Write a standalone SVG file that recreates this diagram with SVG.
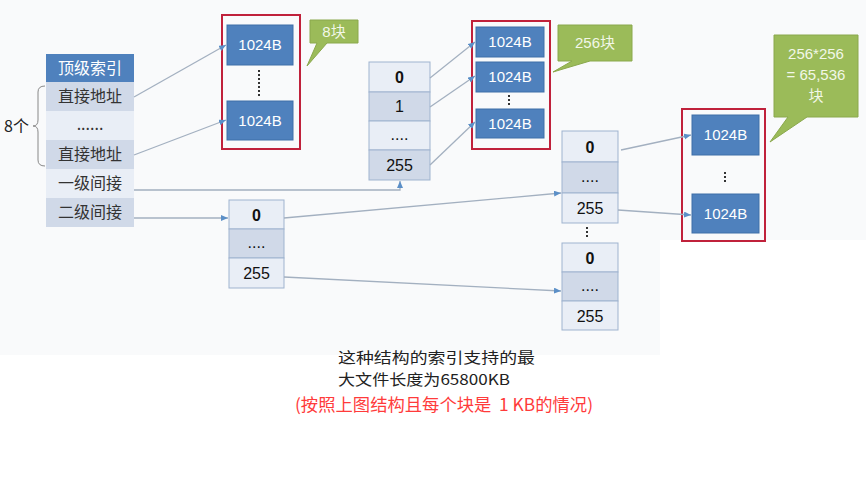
<svg xmlns="http://www.w3.org/2000/svg" width="866" height="482" viewBox="0 0 866 482">
<style>
.cjk{font-family:"Noto Sans CJK SC","Noto Sans",sans-serif}
.lt{fill:#e9eef6;stroke:#9fb3cf;stroke-width:1}
.dk{fill:#d0d9e8;stroke:#9fb3cf;stroke-width:1}
.num{font-family:"Liberation Sans",sans-serif;font-size:16px;fill:#111;text-anchor:middle}
.blk{fill:#4f81bd;stroke:#3e6ea8;stroke-width:1}
.bt{font-family:"Liberation Sans",sans-serif;font-size:15px;fill:#fff;text-anchor:middle}
.red{fill:none;stroke:#c0213b;stroke-width:2}
.call{fill:#9bbb59;stroke:#8aa84c;stroke-width:1}
.ct{font-family:"Liberation Sans","Noto Sans CJK SC",sans-serif;font-size:15px;fill:#f2f7e8;text-anchor:middle}
.lbl{font-family:"Noto Sans CJK SC",sans-serif;font-size:16px;fill:#333;text-anchor:middle}
.con{fill:none;stroke:#a3b0c0;stroke-width:1.3}
.dots{stroke:#333;stroke-width:2;stroke-dasharray:2,2}
</style>
<defs>
<marker id="ar" markerUnits="userSpaceOnUse" markerWidth="8" markerHeight="7" refX="7" refY="3" orient="auto">
<path d="M0,0 L7,3 L0,6 z" fill="#5b8fc7"/>
</marker>
</defs>
<rect x="0" y="0" width="866" height="482" fill="#ffffff"/>
<path d="M0,0 H866 V240 H660 V355 H0 Z" fill="#f9fafb"/>

<g id="index">
<rect x="46" y="54" width="88" height="28" fill="#4f81bd"/>
<text x="90" y="74" class="cjk" font-size="16" fill="#fff" text-anchor="middle">顶级索引</text>
<rect x="46" y="82" width="88" height="29" fill="#d0d9e8"/>
<text x="90" y="102" class="lbl">直接地址</text>
<rect x="46" y="111" width="88" height="29" fill="#e9eef6"/>
<text x="90" y="130" class="lbl">......</text>
<rect x="46" y="140" width="88" height="29" fill="#d0d9e8"/>
<text x="90" y="160" class="lbl">直接地址</text>
<rect x="46" y="169" width="88" height="29" fill="#e9eef6"/>
<text x="90" y="189" class="lbl">一级间接</text>
<rect x="46" y="198" width="88" height="29" fill="#d0d9e8"/>
<text x="90" y="218" class="lbl">二级间接</text>
<path d="M45,86 Q38,86 38,92 V120 Q38,126 33,126 Q38,126 38,132 V160 Q38,166 45,166" fill="none" stroke="#888" stroke-width="1"/>
<text x="4" y="132" class="cjk" font-size="16" fill="#222">8个</text>
</g>

<g id="block1">
<rect x="222" y="15" width="78" height="134" class="red"/>
<rect x="227" y="25" width="66" height="40" class="blk"/>
<text x="260" y="50" class="bt">1024B</text>
<line x1="259" y1="70" x2="259" y2="96" class="dots"/>
<rect x="227" y="101" width="66" height="39" class="blk"/>
<text x="260" y="126" class="bt">1024B</text>
</g>
<g id="callout1">
<path d="M310,20 H358 V43 H327 L307,66 L317,43 H310 Z" class="call"/>
<text x="334" y="37" class="ct">8块</text>
</g>

<g id="table1">
<rect x="369" y="62" width="61" height="30" class="lt"/>
<text x="399.5" y="83" class="num" font-weight="bold">0</text>
<rect x="369" y="92" width="61" height="29" class="dk"/>
<text x="399.5" y="112" class="num">1</text>
<rect x="369" y="121" width="61" height="29" class="lt"/>
<text x="399.5" y="140" class="num">....</text>
<rect x="369" y="150" width="61" height="30" class="dk"/>
<text x="399.5" y="171" class="num">255</text>
</g>

<g id="block2">
<rect x="472" y="21" width="78" height="128" class="red"/>
<rect x="476" y="27" width="68" height="30" class="blk"/>
<text x="510" y="47" class="bt">1024B</text>
<rect x="476" y="62" width="68" height="30" class="blk"/>
<text x="510" y="82" class="bt">1024B</text>
<line x1="509" y1="95" x2="509" y2="107" class="dots"/>
<rect x="476" y="109" width="68" height="29" class="blk"/>
<text x="510" y="129" class="bt">1024B</text>
</g>
<g id="callout2">
<path d="M558,25 H632 V61 H590 L553,72 L572,61 H558 Z" class="call"/>
<text x="595" y="48" class="ct">256块</text>
</g>

<g id="table2">
<rect x="229" y="200" width="55" height="29" class="lt"/>
<text x="256.5" y="221" class="num" font-weight="bold">0</text>
<rect x="229" y="229" width="55" height="29" class="dk"/>
<text x="256.5" y="248" class="num">....</text>
<rect x="229" y="258" width="55" height="30" class="lt"/>
<text x="256.5" y="279" class="num">255</text>
</g>

<g id="tableA">
<rect x="562" y="131" width="56" height="31" class="lt"/>
<text x="590" y="153" class="num" font-weight="bold">0</text>
<rect x="562" y="162" width="56" height="31" class="dk"/>
<text x="590" y="182" class="num">....</text>
<rect x="562" y="193" width="56" height="30" class="lt"/>
<text x="590" y="214" class="num">255</text>
</g>
<line x1="587" y1="227" x2="587" y2="239" class="dots"/>
<g id="tableB">
<rect x="562" y="243" width="56" height="29" class="lt"/>
<text x="590" y="264" class="num" font-weight="bold">0</text>
<rect x="562" y="272" width="56" height="29" class="dk"/>
<text x="590" y="291" class="num">....</text>
<rect x="562" y="301" width="56" height="29" class="lt"/>
<text x="590" y="322" class="num">255</text>
</g>

<g id="block3">
<rect x="682" y="109" width="83" height="132" class="red"/>
<rect x="692" y="115" width="67" height="40" class="blk"/>
<text x="725.5" y="140" class="bt">1024B</text>
<line x1="725" y1="172" x2="725" y2="184" class="dots"/>
<rect x="692" y="194" width="67" height="39" class="blk"/>
<text x="725.5" y="219" class="bt">1024B</text>
</g>
<g id="callout3">
<path d="M774,35 H858 V117 H807 L770,142 L788,117 H774 Z" class="call"/>
<text x="816" y="59" class="ct">256*256</text>
<text x="816" y="80" class="ct">= 65,536</text>
<text x="816" y="101" class="ct">块</text>
</g>

<g id="connectors">
<path d="M134,97 L226,45" class="con" marker-end="url(#ar)"/>
<path d="M134,155 L226,120" class="con" marker-end="url(#ar)"/>
<path d="M134,190 H400 V181" class="con" marker-end="url(#ar)"/>
<path d="M134,218 H228" class="con" marker-end="url(#ar)"/>
<path d="M430,78 L475,42" class="con" marker-end="url(#ar)"/>
<path d="M430,107 L475,76" class="con" marker-end="url(#ar)"/>
<path d="M430,165 L475,122" class="con" marker-end="url(#ar)"/>
<path d="M284,218 L561,193" class="con" marker-end="url(#ar)"/>
<path d="M284,277 L561,291" class="con" marker-end="url(#ar)"/>
<path d="M621,150 L691,135" class="con" marker-end="url(#ar)"/>
<path d="M618,210 L691,215" class="con" marker-end="url(#ar)"/>
</g>

<g id="caption">
<text x="338" y="363" class="cjk" font-size="15" fill="#222" textLength="197" lengthAdjust="spacingAndGlyphs">这种结构的索引支持的最</text>
<text x="338" y="385" class="cjk" font-size="15" fill="#222" textLength="172" lengthAdjust="spacingAndGlyphs">大文件长度为65800KB</text>
<text x="295" y="411" class="cjk" font-size="17" fill="#ff3b3b" textLength="298" lengthAdjust="spacingAndGlyphs" xml:space="preserve">(按照上图结构且每个块是  1 KB的情况)</text>
</g>
</svg>
